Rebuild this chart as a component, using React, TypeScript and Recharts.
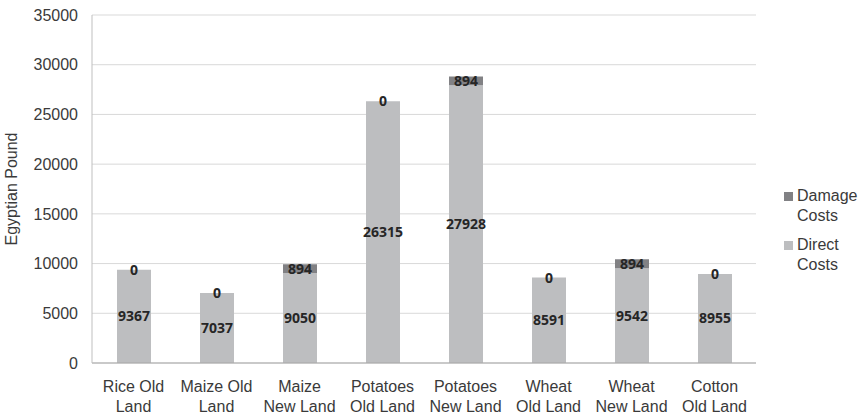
import { BarChart, Bar, XAxis, YAxis, CartesianGrid, LabelList } from 'recharts';

const CATEGORIES = [
    'Rice Old\nLand',
    'Maize Old\nLand',
    'Maize\nNew Land',
    'Potatoes\nOld Land',
    'Potatoes\nNew Land',
    'Wheat\nOld Land',
    'Wheat\nNew Land',
    'Cotton\nOld Land',
];
const DIRECT_COSTS = [9367, 7037, 9050, 26315, 27928, 8591, 9542, 8955];
const DAMAGE_COSTS = [0, 0, 894, 0, 894, 0, 894, 0];
const Y_TICKS = [0, 5000, 10000, 15000, 20000, 25000, 30000, 35000];

const SERIES = [
    { dataKey: 'Direct Costs', fill: '#BDBEC0' },
    { dataKey: 'Damage Costs', fill: '#818184' },
];

const data = CATEGORIES.map((name, i) => ({
    name,
    'Direct Costs': DIRECT_COSTS[i],
    'Damage Costs': DAMAGE_COSTS[i],
}));

const FONT = '"Liberation Sans", Arial, sans-serif';
const TEXT = '#3A3A3A';
const LABEL_STYLE = {
    fill: '#262626',
    fontSize: 14,
    fontWeight: 'bold',
    fontFamily: '"Open Sans", sans-serif',
};

const XTick = ({ x, y, payload }: any) => {
    const lines = String(payload.value).split('\n');
    return (
        <g transform={`translate(${x},${y})`}>
            <text textAnchor="middle" fill={TEXT} fontSize={16} fontFamily={FONT}>
                {lines.map((line, i) => (
                    <tspan key={i} x={0} dy={i === 0 ? 21 : 20}>
                        {line}
                    </tspan>
                ))}
            </text>
        </g>
    );
};

// zero-height damage segments get no label from recharts, draw their "0" on top of the direct bar
const ZeroDamageLabel = (props: any) => {
    const { x, y, width, value } = props;
    if (value !== 0) return null;
    return (
        <text x={x + width / 2} y={y} dy={5} textAnchor="middle" {...LABEL_STYLE}>
            {value}
        </text>
    );
};

// legend drawn as an overlay so it does not eat into the plot area
const LegendBox = () => {
    const items = [...SERIES].reverse();
    return (
        <div
            style={{
                position: 'absolute',
                left: 784,
                top: 186,
                width: 75,
                fontFamily: FONT,
                fontSize: 16,
                color: TEXT,
                lineHeight: '20px',
            }}
        >
            {items.map((s) => {
                const [first, second] = s.dataKey.split(' ');
                return (
                    <div key={s.dataKey} style={{ position: 'relative', paddingLeft: 13, marginBottom: 9 }}>
                        <span
                            style={{
                                position: 'absolute',
                                left: 0,
                                top: 6,
                                width: 9,
                                height: 9,
                                background: s.fill,
                            }}
                        />
                        <div>{first}</div>
                        <div>{second}</div>
                    </div>
                );
            })}
        </div>
    );
};

export default function App() {
    return (
        <div style={{ position: 'absolute', left: 0, top: 0, width: 859, height: 415 }}>
            <BarChart width={859} height={415} data={data} margin={{ top: 15, right: 103, bottom: 0, left: 0 }} barSize={34}>
                <CartesianGrid vertical={false} stroke="#D9D9D9" />
                <XAxis
                    dataKey="name"
                    interval={0}
                    tickLine={false}
                    stroke="#A6A6A6"
                    tick={<XTick />}
                    height={52}
                />
                <YAxis
                    width={92}
                    domain={[0, 35000]}
                    ticks={Y_TICKS}
                    tickLine={false}
                    tickMargin={8}
                    stroke="#BFBFBF"
                    tick={{ fill: TEXT, fontSize: 16, fontFamily: FONT }}
                    label={{
                        value: 'Egyptian Pound',
                        angle: -90,
                        position: 'insideLeft',
                        dx: 6,
                        style: { fill: TEXT, fontSize: 16, fontFamily: FONT, textAnchor: 'middle' },
                    }}
                />
                <Bar dataKey="Direct Costs" stackId="a" fill={SERIES[0].fill} isAnimationActive={false}>
                    <LabelList dataKey="Direct Costs" position="center" {...LABEL_STYLE} />
                    <LabelList dataKey="Damage Costs" content={<ZeroDamageLabel />} />
                </Bar>
                <Bar dataKey="Damage Costs" stackId="a" fill={SERIES[1].fill} isAnimationActive={false}>
                    <LabelList dataKey="Damage Costs" position="center" {...LABEL_STYLE} />
                </Bar>
            </BarChart>
            <LegendBox />
        </div>
    );
}
